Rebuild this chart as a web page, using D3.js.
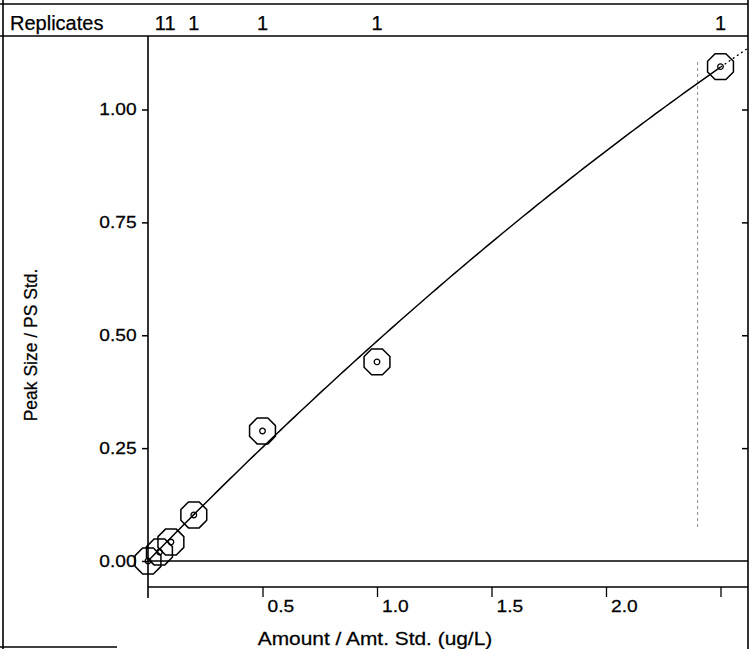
<!DOCTYPE html>
<html>
<head>
<meta charset="utf-8">
<script src="https://cdn.jsdelivr.net/npm/d3@7"></script>
<style>
  body { margin: 0; background: #fff; }
  svg text { font-family: "Liberation Sans", Arial, Helvetica, sans-serif; fill: #000; stroke: #000; stroke-width: 0.25; }
</style>
</head>
<body>
<div id="chart"></div>
<script>
// ================== Data ==================
const amounts    = [0, 0.05, 0.1, 0.2, 0.5, 1.0, 2.5];            // Amount / Amt. Std. (ug/L)
const responses  = [0, 0.02, 0.042, 0.102, 0.288, 0.441, 1.095];  // Peak Size / PS Std.
const replicates = [null, 1, 1, 1, 1, 1, 1];
const fitCoef    = [0, 0.52, -0.033];   // c0 + c1*x + c2*x^2
const xTicks      = [0.5, 1.0, 1.5, 2.0, 2.5];
const xTickLabels = ["0.5", "1.0", "1.5", "2.0", ""];
const yTicks      = [0, 0.25, 0.5, 0.75, 1.0];
const yTickLabels = ["0.00", "0.25", "0.50", "0.75", "1.00"];
const markerAmount = 2.4;   // dotted vertical marker line
const fitEnd = 2.62;        // dotted extrapolation of the fit

const width = 755, height = 649;
const frame = { left: 3, right: 748, top: 4, header: 36, bottom: 647 };
const plot = { left: 148, right: 748, top: 36, axisY: 587, axisEnd: 598 };
const stretch = 1.13;  // the scanned text is a bit wide

const svg = d3.select("#chart")
  .append("svg")
  .attr("width", width)
  .attr("height", height);

const x = d3.scaleLinear().domain([0, 2.5]).range([148, 720.5]);
const y = d3.scaleLinear().domain([0, 1]).range([561, 109.5]);

const stroke = "#000";

// ================== Frame ==================
const lines = [
  [frame.left, 0, frame.left, height],
  [0, frame.top, frame.right, frame.top],
  [0, frame.header, frame.right, frame.header],
  [frame.right, 0, frame.right, height],
  [0, frame.bottom, 117, frame.bottom],
  [plot.left, plot.top, plot.left, plot.axisEnd],
  [plot.left, y(0), plot.right, y(0)],
  [plot.left, plot.axisY, plot.right, plot.axisY]
];
svg.append("g").selectAll("line")
  .data(lines)
  .enter().append("line")
  .attr("x1", d => d[0]).attr("y1", d => d[1])
  .attr("x2", d => d[2]).attr("y2", d => d[3])
  .attr("stroke", stroke)
  .attr("stroke-width", 1.6);

// ================== Header: replicates ==================
svg.append("text")
  .attr("transform", `translate(10,30)`)
  .attr("font-size", 20)
  .text("Replicates");

// merge labels that would collide
const repLabels = [];
amounts.forEach((a, i) => {
  if (replicates[i] == null) return;
  const px = x(a);
  const last = repLabels[repLabels.length - 1];
  if (last && px - last.x1 < 15) {
    last.text += String(replicates[i]);
    last.x1 = px;
  } else {
    repLabels.push({ x0: px, x1: px, text: String(replicates[i]) });
  }
});
svg.append("g").selectAll("text")
  .data(repLabels)
  .enter().append("text")
  .attr("x", d => (d.x0 + d.x1) / 2)
  .attr("y", 30)
  .attr("text-anchor", "middle")
  .attr("font-size", 20)
  .text(d => d.text);

// ================== Axes ==================
svg.append("g")
  .attr("transform", `translate(${plot.left},0)`)
  .call(d3.axisLeft(y).tickValues(yTicks).tickFormat((d, i) => yTickLabels[i]).tickSize(6).tickPadding(4))
  .call(g => g.select(".domain").remove())
  .call(g => g.selectAll("line").attr("stroke", stroke).attr("stroke-width", 1.5))
  .call(g => g.selectAll("text")
    .attr("font-size", 17)
    .attr("font-family", null)
    .attr("fill", null)
    .attr("transform", `scale(${stretch},1)`));

svg.append("g")
  .attr("transform", `translate(${plot.right},0)`)
  .call(d3.axisLeft(y).tickValues(yTicks.filter(v => v > 0)).tickFormat("").tickSize(6))
  .call(g => g.select(".domain").remove())
  .call(g => g.selectAll("line").attr("stroke", stroke).attr("stroke-width", 1.5));

svg.append("g")
  .attr("transform", `translate(0,${plot.axisY})`)
  .call(d3.axisBottom(x).tickValues(xTicks).tickFormat((d, i) => xTickLabels[i]).tickSize(10))
  .call(g => g.select(".domain").remove())
  .call(g => g.selectAll("line").attr("stroke", stroke).attr("stroke-width", 1.3))
  .call(g => g.selectAll("text")
    .attr("font-size", 17)
    .attr("font-family", null)
    .attr("fill", null)
    .attr("text-anchor", "start")
    .attr("x", 4)
    .attr("y", 25)
    .attr("dy", 0)
    .attr("transform", `scale(${stretch},1)`));

// axis titles
svg.append("text")
  .attr("transform", `translate(375,645) scale(${stretch},1)`)
  .attr("text-anchor", "middle")
  .attr("font-size", 18.5)
  .text("Amount / Amt. Std. (ug/L)");

svg.append("text")
  .attr("transform", `translate(37,345) rotate(-90)`)
  .attr("text-anchor", "middle")
  .attr("font-size", 17.5)
  .text("Peak Size / PS Std.");

// ================== Marker line ==================
svg.append("line")
  .attr("x1", x(markerAmount)).attr("x2", x(markerAmount))
  .attr("y1", 62).attr("y2", 528)
  .attr("stroke", "#8a8a8a")
  .attr("stroke-width", 1)
  .attr("stroke-dasharray", "3,3");

// ================== Fit curve ==================
const fit = v => fitCoef[0] + fitCoef[1] * v + fitCoef[2] * v * v;
const curve = d3.line().x(d => x(d)).y(d => y(fit(d)));

svg.append("path")
  .attr("d", curve(d3.range(0, 2.5 + 1e-9, 0.02)))
  .attr("fill", "none")
  .attr("stroke", stroke)
  .attr("stroke-width", 1.5);

svg.append("path")
  .attr("d", curve(d3.range(2.5, fitEnd + 1e-9, 0.02)))
  .attr("fill", "none")
  .attr("stroke", stroke)
  .attr("stroke-width", 1.3)
  .attr("stroke-dasharray", "2,3");

// ================== Points ==================
const R = 14;
const octagon = d3.range(8).map(k => {
  const a = Math.PI / 8 + k * Math.PI / 4;
  return [R * Math.cos(a), R * Math.sin(a)];
});
const octPath = d3.line()(octagon) + "Z";

const pts = svg.append("g").selectAll("g")
  .data(amounts.map((a, i) => ({ a, r: responses[i] })))
  .enter().append("g")
  .attr("transform", d => `translate(${x(d.a)},${y(d.r)})`);

pts.append("path")
  .attr("d", octPath)
  .attr("fill", "none")
  .attr("stroke", stroke)
  .attr("stroke-width", 1.5);

pts.append("circle")
  .attr("r", 2.8)
  .attr("fill", "none")
  .attr("stroke", stroke)
  .attr("stroke-width", 1.3);
</script>
</body>
</html>
